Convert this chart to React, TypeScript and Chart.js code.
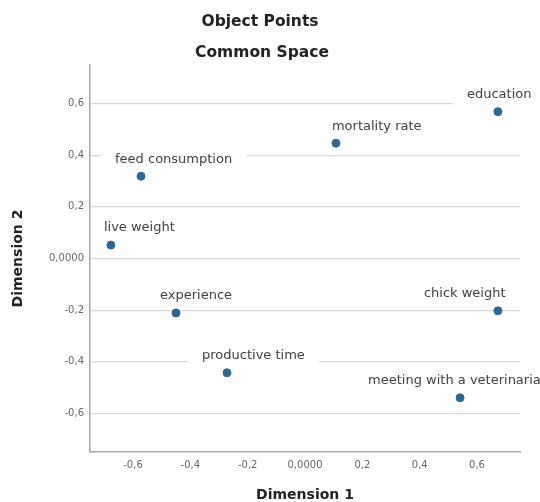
import React, { useEffect, useRef } from 'react';
import { Chart, registerables } from 'chart.js';

Chart.register(...registerables);

// ---- data ----
const POINT_NAMES = [
  'education',
  'mortality rate',
  'feed consumption',
  'live weight',
  'experience',
  'chick weight',
  'productive time',
  'meeting with a veterinarian',
];
const DIM1 = [0.673, 0.108, -0.572, -0.677, -0.45, 0.673, -0.272, 0.541];
const DIM2 = [0.569, 0.447, 0.319, 0.052, -0.211, -0.203, -0.443, -0.54];
const TICK_VALUES = [-0.6, -0.4, -0.2, 0, 0.2, 0.4, 0.6];
const TICK_LABELS = ['-0,6', '-0,4', '-0,2', '0,0000', '0,2', '0,4', '0,6'];
const AXIS_MIN = -0.75;
const AXIS_MAX = 0.75;
const TITLE_LINES = ['Object Points', 'Common Space'];
const X_TITLE = 'Dimension 1';
const Y_TITLE = 'Dimension 2';

// label placement (style): left edge of label text relative to its point, px
const LABEL_DX = [-31, -4, -26, -7, -16, -74, -25, -92];
const LABEL_DY = -17;
const LABEL_FONT = '13px "DejaVu Sans", sans-serif';
const POINT_COLOR = '#2e6792';

const tickLabel = (v: number) => {
  const i = TICK_VALUES.findIndex((t) => Math.abs(t - v) < 1e-6);
  return i >= 0 ? TICK_LABELS[i] : '';
};

const labelPlugin = {
  id: 'pointLabels',
  beforeDatasetsDraw(chart: any) {
    const ctx = chart.ctx;
    const area = chart.chartArea;
    const meta = chart.getDatasetMeta(0);
    ctx.save();
    ctx.font = LABEL_FONT;
    ctx.textBaseline = 'middle';
    ctx.textAlign = 'left';
    meta.data.forEach((el: any, i: number) => {
      const text = POINT_NAMES[i];
      const w = ctx.measureText(text).width;
      const x = el.x + LABEL_DX[i];
      const y = el.y + LABEL_DY;
      const bx = Math.max(x - 14, area.left + 1);
      ctx.fillStyle = '#ffffff';
      ctx.fillRect(bx, y - 10, x + w + 14 - bx, 20);
      ctx.fillStyle = '#404040';
      ctx.fillText(text, x, y);
    });
    ctx.restore();
  },
  afterDraw(chart: any) {
    const ctx = chart.ctx;
    ctx.save();
    ctx.font = 'bold 15.5px "DejaVu Sans", sans-serif';
    ctx.fillStyle = '#222222';
    ctx.textAlign = 'center';
    ctx.textBaseline = 'middle';
    ctx.fillText(TITLE_LINES[0], 260, 22);
    ctx.fillText(TITLE_LINES[1], 262, 53);
    ctx.restore();
  },
};

export default function App() {
  const ref = useRef<HTMLCanvasElement | null>(null);

  useEffect(() => {
    if (!ref.current) return;
    const chart = new Chart(ref.current, {
      type: 'scatter',
      data: {
        datasets: [
          {
            label: 'Object Points',
            data: DIM1.map((x, i) => ({ x, y: DIM2[i] })),
            backgroundColor: POINT_COLOR,
            borderColor: POINT_COLOR,
            pointRadius: 4,
            pointBorderWidth: 1,
          },
        ],
      },
      options: {
        animation: false,
        responsive: false,
        devicePixelRatio: 1,
        layout: { padding: { top: 65, right: 20, left: 0, bottom: 0 } },
        plugins: {
          legend: { display: false },
          title: { display: false },
          tooltip: { enabled: false },
        },
        scales: {
          x: {
            type: 'linear',
            min: AXIS_MIN,
            max: AXIS_MAX,
            afterBuildTicks: (s: any) => {
              s.ticks = TICK_VALUES.map((v) => ({ value: v }));
            },
            afterFit: (s: any) => {
              s.height = 50;
            },
            grid: { display: false, drawTicks: false },
            border: { display: true, color: '#a8a8a8', width: 1.5 },
            ticks: {
              padding: 7,
              autoSkip: false,
              maxRotation: 0,
              color: '#666666',
              font: { family: '"DejaVu Sans", sans-serif', size: 10 },
              callback: (v: any) => tickLabel(Number(v)),
            },
            title: {
              display: true,
              text: X_TITLE,
              color: '#222222',
              padding: { top: 0, bottom: 0 },
              font: { family: '"DejaVu Sans", sans-serif', size: 14, weight: 'bold', lineHeight: 1 },
            },
          },
          y: {
            type: 'linear',
            min: AXIS_MIN,
            max: AXIS_MAX,
            afterBuildTicks: (s: any) => {
              s.ticks = TICK_VALUES.map((v) => ({ value: v }));
            },
            afterFit: (s: any) => {
              s.width = 90;
            },
            grid: { display: true, drawTicks: false, color: '#d8d8d8', lineWidth: 1.2 },
            border: { display: true, color: '#a8a8a8', width: 1.5 },
            ticks: {
              padding: 6,
              autoSkip: false,
              color: '#666666',
              font: { family: '"DejaVu Sans", sans-serif', size: 10 },
              callback: (v: any) => tickLabel(Number(v)),
            },
            title: {
              display: true,
              text: Y_TITLE,
              color: '#222222',
              padding: { top: 10, bottom: 0 },
              font: { family: '"DejaVu Sans", sans-serif', size: 14, weight: 'bold' },
            },
          },
        },
      },
      plugins: [labelPlugin],
    });
    return () => chart.destroy();
  }, []);

  return (
    <div style={{ position: 'fixed', left: 0, top: 0, width: 540, height: 502, background: '#ffffff' }}>
      <canvas ref={ref} width={540} height={502} style={{ display: 'block', width: 540, height: 502 }} />
    </div>
  );
}
